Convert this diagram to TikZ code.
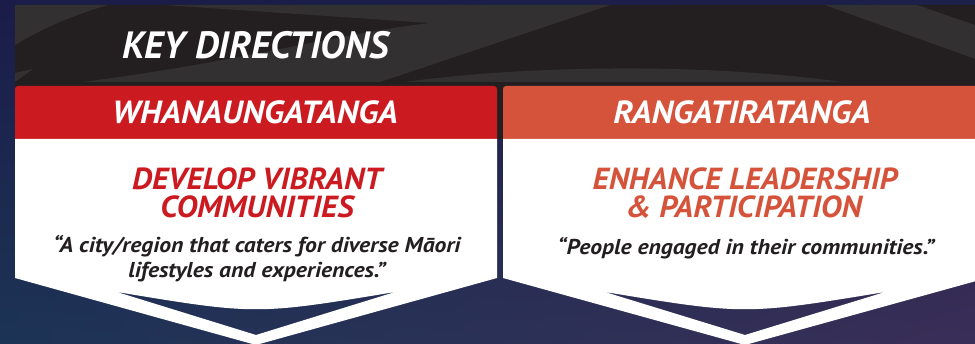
\documentclass[tikz,border=0pt]{standalone}
\usepackage{fontspec}
\setmainfont{PT Sans}
\newfontfamily\keyfont{PT Sans}
\newfontfamily\headfont[FakeStretch=1.06]{PT Sans}
\newfontfamily\goalfont[FakeStretch=1.05]{PT Sans}
\newfontfamily\quotefont[FakeStretch=1.1]{PT Sans}
\usetikzlibrary{shadings}
\definecolor{panel}{HTML}{231F20}
\definecolor{swoosh}{HTML}{323031}
\definecolor{kred}{HTML}{CC1A21}
\definecolor{korange}{HTML}{D6533B}
\definecolor{ink}{HTML}{231F20}
\definecolor{bgTL}{HTML}{1B1C48}
\definecolor{bgTR}{HTML}{1C2149}
\definecolor{bgBL}{HTML}{1C3456}
\definecolor{bgBR}{HTML}{3A2E57}
\begin{document}
\begin{tikzpicture}[x=1pt,y=-1pt,
  titletext/.style={font=\keyfont\bfseries\itshape\fontsize{38}{38}\selectfont, text=white, inner sep=0pt},
  headtext/.style={font=\headfont\bfseries\itshape\fontsize{32}{32}\selectfont, text=white, inner sep=0pt},
  goaltext/.style={font=\goalfont\bfseries\itshape\fontsize{30.5}{30.5}\selectfont, inner sep=0pt},
  quotetext/.style={font=\quotefont\bfseries\itshape\fontsize{21.5}{21.5}\selectfont, text=ink, inner sep=0pt},
  cardbody/.style={fill=white, even odd rule}]
\useasboundingbox (0,0) rectangle (975,344);
\clip (0,0) rectangle (975,344);
% background
\shade[upper left=bgTL, upper right=bgTR, lower left=bgBL, lower right=bgBR] (0,0) rectangle (975,344);
% dark panel
\fill[panel, rounded corners=5pt] (15,139) -- (15,5) -- (995,5) -- (995,139) -- cycle;
\begin{scope}
  \clip (15,5) rectangle (995,86);
  \fill[swoosh] (15,5) -- (108,5) .. controls (70,16) and (40,30) .. (15,45) -- cycle;
  \fill[swoosh] (15,73) -- (33,69) -- (15,82) -- cycle;
  \fill[swoosh] (165,5) -- (610,5) -- (380,82) -- (83,82) .. controls (250,60) and (330,35) .. (430,23) -- cycle;
  \fill[swoosh] (405,82) .. controls (520,66) and (700,62) .. (842,82) -- cycle;
  \fill[swoosh] (825,5) -- (917,5) -- (995,32) -- (995,66) -- cycle;
\end{scope}
% left card
\fill[kred, rounded corners=3pt] (15,86) rectangle (497,145);
\fill[cardbody] (15,139) -- (497,139) -- (497,278) -- (256,345) -- (15,278) -- cycle
  (117,292) .. controls (256,315) .. (395,292) -- (256,335) -- cycle;
% right card
\fill[korange, rounded corners=3pt] (503,86) rectangle (987,145);
\fill[cardbody] (503,139) -- (987,139) -- (987,278) -- (745,345) -- (503,278) -- cycle
  (605,292) .. controls (745,315) .. (885,292) -- (745,335) -- cycle;
% texts
\node[titletext, anchor=base west] (keytitle) at (122,59) {KEY DIRECTIONS};
\node[headtext, anchor=base] (lhead) at (255,124) {WHANAUNGATANGA};
\node[headtext, anchor=base] (rhead) at (742,124) {RANGATIRATANGA};
\node[goaltext, text=kred, anchor=base] (ltitle1) at (257,190) {DEVELOP VIBRANT};
\node[goaltext, text=kred, anchor=base] (ltitle2) at (257,218) {COMMUNITIES};
\node[goaltext, text=korange, anchor=base] (rtitle1) at (745,190) {ENHANCE LEADERSHIP};
\node[goaltext, text=korange, anchor=base] (rtitle2) at (744,218) {\& PARTICIPATION};
\node[quotetext, anchor=base] (lquote1) at (257,253) {“A city/region that caters for diverse Māori};
\node[quotetext, anchor=base] (lquote2) at (257,278) {lifestyles and experiences.”};
\node[quotetext, anchor=base] (rquote) at (746,255) {“People engaged in their communities.”};
\end{tikzpicture}
\end{document}
